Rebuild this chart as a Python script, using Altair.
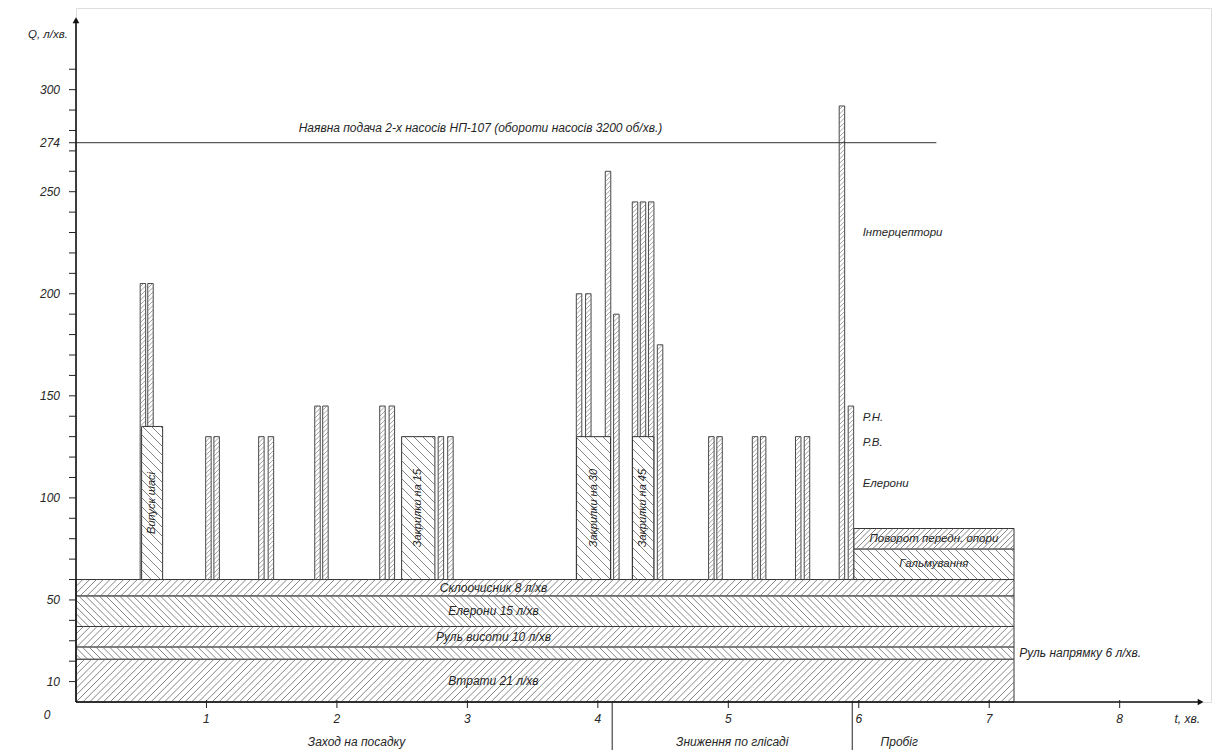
import altair as alt
import numpy as np
import pandas as pd

# ---------------- data ----------------
band_names = ["Втрати 21 л/хв", "Руль напрямку 6 л/хв.", "Руль висоти 10 л/хв",
              "Елерони 15 л/хв", "Склоочисник 8 л/хв"]
band_values = [21, 6, 10, 15, 8]
band_end = 7.19
band_hatch = ["/", "\\", "/", "\\", "/"]

base_level = 60

block_names = ["Випуск шасі", "Закрилки на 15", "Закрилки на 30", "Закрилки на 45"]
block_t0 = [0.503, 2.496, 3.837, 4.266]
block_t1 = [0.664, 2.751, 4.097, 4.429]
block_top = [135, 130, 130, 130]

spike_t = [0.513, 0.571, 1.015, 1.078, 1.421, 1.494, 1.851, 1.912, 2.349, 2.421,
           2.797, 2.870, 3.856, 3.927, 4.078, 4.142, 4.285, 4.346, 4.409, 4.477,
           4.870, 4.933, 5.205, 5.267, 5.536, 5.603, 5.871, 5.940]
spike_top = [205, 205, 130, 130, 130, 130, 145, 145, 145, 145,
             130, 130, 200, 200, 260, 190, 245, 245, 245, 175,
             130, 130, 130, 130, 130, 130, 292, 145]

landing_names = ["Гальмування", "Поворот передн. опори"]
landing_values = [15, 10]
landing_t0 = 5.962
landing_hatch = ["\\", "/"]

supply_value = 274
supply_end = 6.595
supply_label = "Наявна подача 2-х насосів НП-107 (обороти насосів 3200 об/хв.)"

spike_labels = ["Інтерцептори", "Р.Н.", "Р.В.", "Елерони"]
spike_label_q = [230, 139, 127, 107]

phase_names = ["Заход на посадку", "Зниження по глісаді", "Пробіг"]
phase_bounds = [4.11, 5.95]

y_tick_labels = [0, 10, 50, 100, 150, 200, 250, 274, 300]
x_tick_labels = [1, 2, 3, 4, 5, 6, 7, 8]

# ---------------- layout ----------------
XMAX, YMAX = 8.7, 340
W, H = 1135, 694
SX, SY = W / XMAX, H / YMAX
FONT = "Liberation Sans"
INK = "#262626"
HATCH = "#666666"

xs = alt.Scale(domain=[0, XMAX], nice=False, zero=False)
ys = alt.Scale(domain=[0, YMAX], nice=False, zero=False)


def X(f):
    return alt.X(f, type="quantitative", scale=xs, axis=None)


def Y(f):
    return alt.Y(f, type="quantitative", scale=ys, axis=None)


def hatch(x0, x1, y0, y1, kind, step):
    X0, X1, Y0, Y1 = x0 * SX, x1 * SX, y0 * SY, y1 * SY
    segs = []
    if kind == "/":
        lo, hi = Y0 - X1, Y1 - X0
        for k in range(int(np.ceil(lo / step)), int(np.floor(hi / step)) + 1):
            c = k * step
            xa, xb = max(X0, Y0 - c), min(X1, Y1 - c)
            if xb - xa > 0.3:
                segs.append((xa / SX, (xa + c) / SY, xb / SX, (xb + c) / SY))
    else:
        lo, hi = Y0 + X0, Y1 + X1
        for k in range(int(np.ceil(lo / step)), int(np.floor(hi / step)) + 1):
            c = k * step
            xa, xb = max(X0, c - Y1), min(X1, c - Y0)
            if xb - xa > 0.3:
                segs.append((xa / SX, (c - xa) / SY, xb / SX, (c - xb) / SY))
    return segs


def hatch_df(rows):
    return pd.DataFrame(rows, columns=["a", "b", "c", "d"])


def rect_layer(df, sw=1.0):
    return alt.Chart(df).mark_rect(fill="white", stroke="#333", strokeWidth=sw).encode(
        x=X("t0"), x2=alt.X2("t1"), y=Y("q0"), y2=alt.Y2("q1"))


def hatch_layer(df, sw=0.8):
    return alt.Chart(df).mark_rule(color=HATCH, strokeWidth=sw).encode(
        x=X("a"), y=Y("b"), x2=alt.X2("c"), y2=alt.Y2("d"))


# bands
cum = np.cumsum(band_values)
bands = pd.DataFrame({"name": band_names, "t0": 0.0, "t1": band_end,
                      "q0": cum - np.array(band_values), "q1": cum})
band_h = []
for r, k in zip(bands.itertuples(), band_hatch):
    band_h += hatch(r.t0, r.t1, r.q0, r.q1, k, 6.8)

# landing blocks
lcum = base_level + np.cumsum(landing_values)
landing = pd.DataFrame({"name": landing_names, "t0": landing_t0, "t1": band_end,
                        "q0": lcum - np.array(landing_values), "q1": lcum})
land_h = []
for r, k, st in zip(landing.itertuples(), landing_hatch, [8, 5.5]):
    land_h += hatch(r.t0, r.t1, r.q0, r.q1, k, st)

# thin spikes
BW = 0.042
spikes = pd.DataFrame({"t0": np.array(spike_t) - BW / 2, "t1": np.array(spike_t) + BW / 2,
                       "q0": base_level, "q1": spike_top})
spike_h = []
for r in spikes.itertuples():
    spike_h += hatch(r.t0, r.t1, r.q0, r.q1, "/", 4.5)

# blocks
blocks = pd.DataFrame({"name": block_names, "t0": block_t0, "t1": block_t1,
                       "q0": base_level, "q1": block_top})
blocks["tm"] = (blocks.t0 + blocks.t1) / 2
blocks["qm"] = (blocks.q0 + blocks.q1) / 2
block_h = []
for r in blocks.itertuples():
    block_h += hatch(r.t0, r.t1, r.q0, r.q1, "\\", 9)

layers = [
    rect_layer(bands), hatch_layer(hatch_df(band_h)),
    rect_layer(landing), hatch_layer(hatch_df(land_h)),
    rect_layer(spikes, 0.9), hatch_layer(hatch_df(spike_h), 0.6),
    rect_layer(blocks), hatch_layer(hatch_df(block_h)),
]

# supply line
supply = pd.DataFrame({"t0": [0.0], "t1": [supply_end], "q": [supply_value]})
layers.append(alt.Chart(supply).mark_rule(color="#333", strokeWidth=1).encode(
    x=X("t0"), x2=alt.X2("t1"), y=Y("q")))

# axes
yaxis = pd.DataFrame({"t": [0.0], "q0": [0.0], "q1": [333.0]})
layers.append(alt.Chart(yaxis).mark_rule(color="#111", strokeWidth=1.6).encode(
    x=X("t"), y=Y("q0"), y2=alt.Y2("q1")))
layers.append(alt.Chart(pd.DataFrame({"t": [0.0], "q": [334.0]})).mark_point(
    shape="triangle-up", filled=True, color="#111", size=45, opacity=1).encode(x=X("t"), y=Y("q")))
xaxis = pd.DataFrame({"t0": [0.0], "t1": [8.6], "q": [0.0]})
layers.append(alt.Chart(xaxis).mark_rule(color="#111", strokeWidth=1.6).encode(
    x=X("t0"), x2=alt.X2("t1"), y=Y("q")))
layers.append(alt.Chart(pd.DataFrame({"t": [8.62], "q": [0.0]})).mark_point(
    shape="triangle-right", filled=True, color="#111", size=45, opacity=1).encode(x=X("t"), y=Y("q")))

yt = pd.DataFrame({"q": sorted(set(list(range(10, 320, 10)) + y_tick_labels[1:]))})
layers.append(alt.Chart(yt).mark_rule(color="#222", strokeWidth=1).encode(
    x=alt.value(-7), x2=alt.value(0), y=Y("q")))
xt = pd.DataFrame({"t": x_tick_labels})
layers.append(alt.Chart(xt).mark_rule(color="#222", strokeWidth=1).encode(
    x=X("t"), y=alt.value(H - 2), y2=alt.value(H + 6)))

# phase separators
ph = pd.DataFrame({"t": phase_bounds})
layers.append(alt.Chart(ph).mark_rule(color="#222", strokeWidth=1).encode(
    x=X("t"), y=alt.value(H), y2=alt.value(H + 48)))

txt = dict(font=FONT, fontStyle="italic", color=INK)

ytl = pd.DataFrame({"q": y_tick_labels, "lab": [str(v) for v in y_tick_labels]})
layers.append(alt.Chart(ytl).transform_filter("datum.q > 0").mark_text(
    align="right", baseline="middle", fontSize=12, **txt).encode(
    x=alt.value(-16), y=Y("q"), text="lab:N"))
layers.append(alt.Chart(ytl).transform_filter("datum.q == 0").mark_text(
    align="center", baseline="middle", fontSize=12, **txt).encode(
    x=alt.value(-29), y=alt.value(H + 13), text="lab:N"))

xtl = pd.DataFrame({"t": x_tick_labels, "lab": [str(v) for v in x_tick_labels]})
layers.append(alt.Chart(xtl).mark_text(align="center", baseline="middle", fontSize=12, **txt).encode(
    x=X("t"), y=alt.value(H + 17), text="lab:N"))

layers.append(alt.Chart(pd.DataFrame({"t": [8.42], "lab": ["t, хв."]})).mark_text(
    align="left", baseline="middle", fontSize=12, **txt).encode(
    x=X("t"), y=alt.value(H + 17), text="lab:N"))
layers.append(alt.Chart(pd.DataFrame({"q": [327], "lab": ["Q, л/хв."]})).mark_text(
    align="right", baseline="middle", fontSize=11.5, **txt).encode(
    x=alt.value(-8), y=Y("q"), text="lab:N"))

phase_pos = [2.15, 5.03, 6.31]
pl = pd.DataFrame({"t": phase_pos, "lab": phase_names})
layers.append(alt.Chart(pl).mark_text(align="center", baseline="middle", fontSize=12, **txt).encode(
    x=X("t"), y=alt.value(H + 40), text="lab:N"))

# band labels
bl = bands.copy()
bl["qm"] = (bl.q0 + bl.q1) / 2
bl["tm"] = 3.2
bl["out"] = [n.startswith("Руль напрямку") for n in band_names]
layers.append(alt.Chart(bl).transform_filter("!datum.out").mark_text(
    align="center", baseline="middle", fontSize=12, **txt).encode(
    x=X("tm"), y=Y("qm"), text="name:N"))
bl["to"] = band_end + 0.04
layers.append(alt.Chart(bl).transform_filter("datum.out").mark_text(
    align="left", baseline="middle", fontSize=12, **txt).encode(
    x=X("to"), y=Y("qm"), text="name:N"))

ll = landing.copy()
ll["qm"] = (ll.q0 + ll.q1) / 2
ll["tm"] = (ll.t0 + ll.t1) / 2
layers.append(alt.Chart(ll).mark_text(align="center", baseline="middle", fontSize=11.5, **txt).encode(
    x=X("tm"), y=Y("qm"), text="name:N"))

layers.append(alt.Chart(blocks).mark_text(align="center", baseline="middle", fontSize=11,
                                          angle=270, **txt).encode(
    x=X("tm"), y=Y("qm"), text="name:N"))

sl = pd.DataFrame({"q": spike_label_q, "lab": spike_labels, "t": 6.03})
layers.append(alt.Chart(sl).mark_text(align="left", baseline="middle", fontSize=11.5, **txt).encode(
    x=X("t"), y=Y("q"), text="lab:N"))

sup = pd.DataFrame({"t": [3.1], "q": [281], "lab": [supply_label]})
layers.append(alt.Chart(sup).mark_text(align="center", baseline="middle", fontSize=12, **txt).encode(
    x=X("t"), y=Y("q"), text="lab:N"))

chart = alt.layer(*layers).properties(
    width=W, height=H,
    autosize=alt.AutoSizeParams(type="none"),
    padding={"left": 68, "top": 0, "right": 10, "bottom": 50},
).configure_view(stroke=None).configure(background="white")

chart.save("out.html", embed_options={"renderer": "svg", "actions": False})
